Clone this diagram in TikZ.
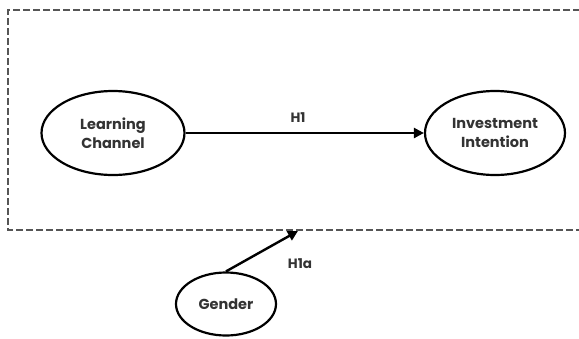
\documentclass[tikz,border=0pt]{standalone}
\usepackage{fontspec}
\setmainfont{Poppins}
\usetikzlibrary{arrows.meta,shapes.geometric}
\definecolor{txt}{HTML}{333333}
\definecolor{boxc}{HTML}{555555}
\tikzset{
  construct/.style={ellipse, draw=black, line width=2.2pt, inner sep=0pt, align=center,
     font=\fontsize{14.5}{19}\selectfont\bfseries, text=txt},
  path/.style={line width=2.4pt, -{Triangle[length=10pt,width=10pt]}},
  lbl/.style={font=\fontsize{13.5}{16}\selectfont\bfseries, text=txt},
  frame/.style={draw=boxc, line width=2.2pt, dash pattern=on 7pt off 3pt}
}
\begin{document}
\begin{tikzpicture}[x=1pt,y=-1pt]
\useasboundingbox (0,0) rectangle (579,338);
\fill[white] (0,0) rectangle (579,338);
\draw[frame] (590,10) -- (8,10) -- (8,230) -- (590,230);
\node[construct, minimum width=143pt, minimum height=84pt] (lc) at (113,133) {Learning\\Channel};
\node[construct, minimum width=140pt, minimum height=84pt] (ii) at (495,133) {Investment\\Intention};
\node[construct, minimum width=100pt, minimum height=63pt] (g) at (226,304) {Gender};
\coordinate (m) at (298,231);
\draw[path] (lc) -- (ii);
\draw[path] (g.north) -- (m);
\node[lbl] (h1) at (298,118) {H1};
\node[lbl] (h1a) at (300,264) {H1a};
\end{tikzpicture}
\end{document}
